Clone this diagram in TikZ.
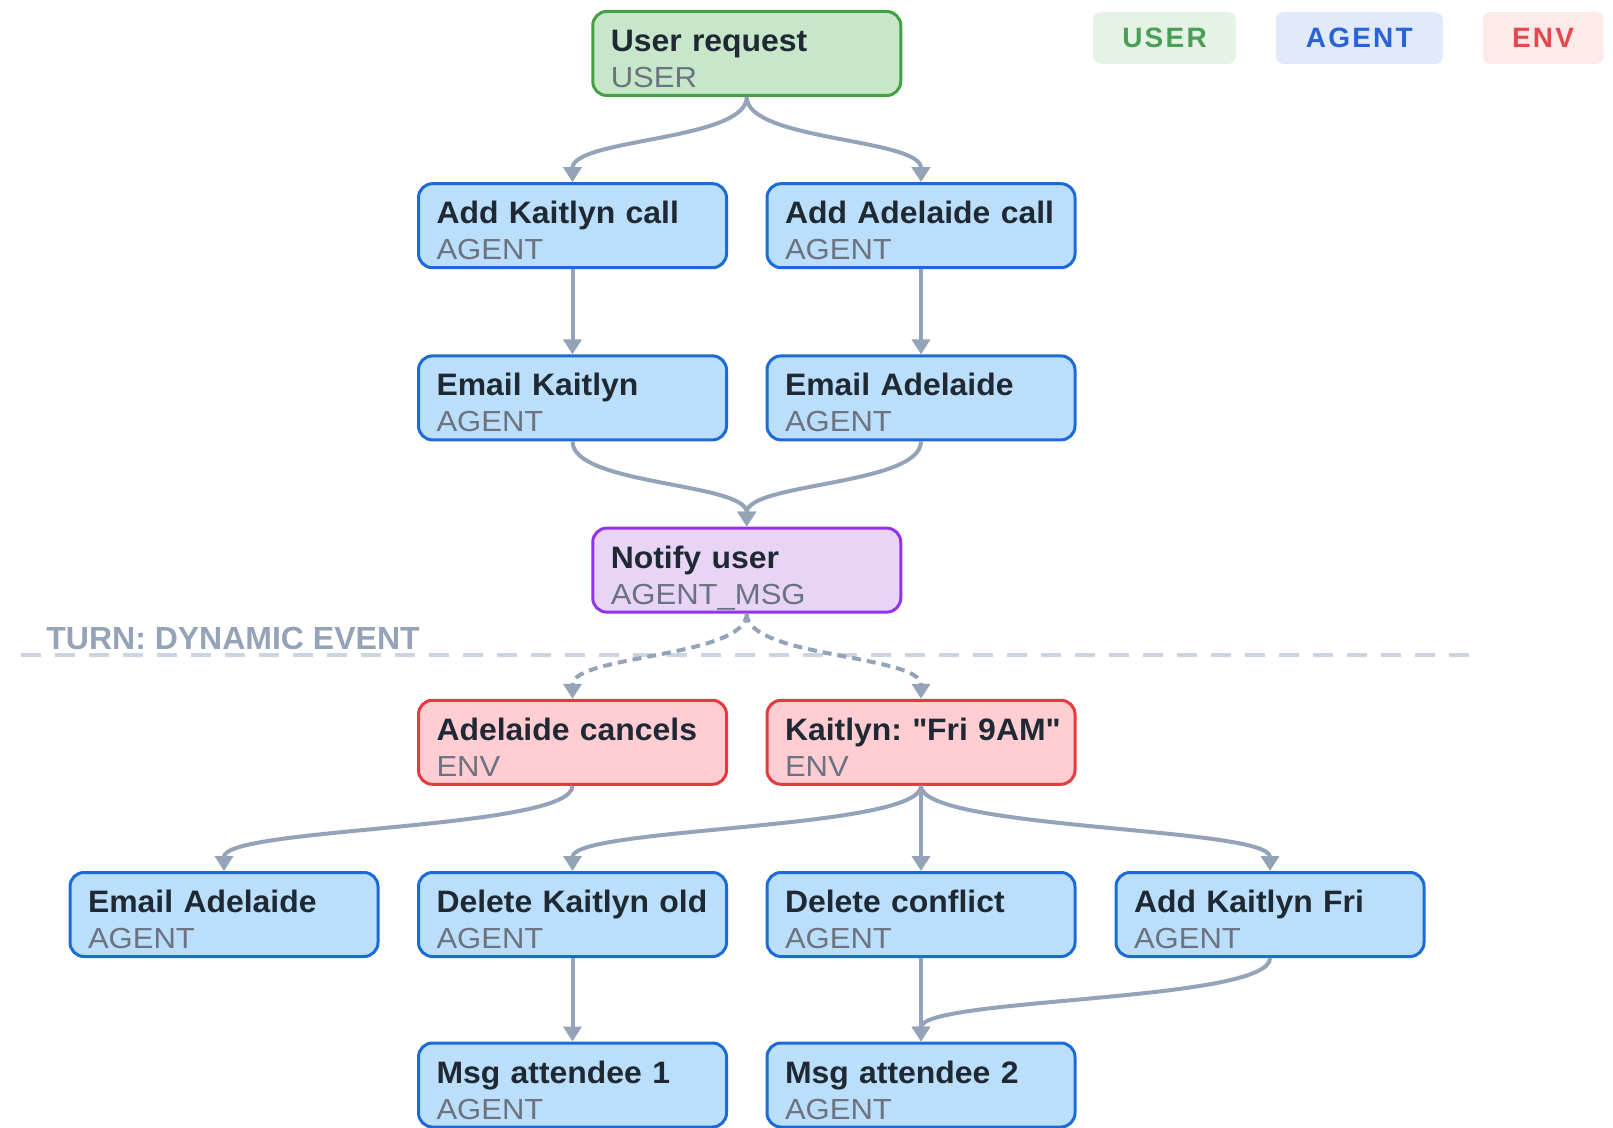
\documentclass[tikz,border=0pt]{standalone}
\usepackage{fontspec}
\setmainfont{Liberation Sans}
\usetikzlibrary{arrows.meta}
\usetikzlibrary{positioning}
\frenchspacing

\definecolor{usrline}{HTML}{43A047}
\definecolor{usrfill}{HTML}{C8E6C9}
\definecolor{agtline}{HTML}{1A6BD8}
\definecolor{agtfill}{HTML}{BBDEFB}
\definecolor{envline}{HTML}{E8393F}
\definecolor{envfill}{HTML}{FFCDD2}
\definecolor{msgline}{HTML}{9333EA}
\definecolor{msgfill}{HTML}{E8D4F6}
\definecolor{titlecol}{HTML}{1F2933}
\definecolor{kindcol}{HTML}{6B7280}
\definecolor{edgecol}{HTML}{94A3B8}
\definecolor{sepcol}{HTML}{CBD5E1}

\newcommand{\steptext}[2]{\rule{0pt}{20pt}{\bfseries\addfontfeature{FakeStretch=1.03}\mbox{#1}}\\{\fontsize{14.5}{18}\selectfont\addfontfeature{FakeStretch=1.07}\color{kindcol}#2}\rule[-4pt]{0pt}{4pt}}

\begin{document}
\begin{tikzpicture}[x=0.5pt, y=-0.5pt,
  task/.style={draw, rounded corners=7pt, line width=1.5pt, text width=136pt, inner xsep=9pt, inner ysep=0pt, align=left, text=titlecol, font=\fontsize{15.5}{18}\selectfont},
  user/.style={task, draw=usrline, fill=usrfill},
  agent/.style={task, draw=agtline, fill=agtfill},
  env/.style={task, draw=envline, fill=envfill},
  msg/.style={task, draw=msgline, fill=msgfill},
  flow/.style={draw=edgecol, line width=2pt, -{Triangle[width=9pt,length=7.5pt]}},
  flowdash/.style={flow, dash pattern=on 4.5pt off 3pt},
  legend/.style={rounded corners=4pt, minimum height=26pt, inner sep=0pt, font=\fontsize{14}{16}\selectfont\bfseries\addfontfeature{LetterSpace=8}}]
\useasboundingbox (0,0) rectangle (1613,1128);
\clip (0,0) rectangle (1613,1128);

% legend
\node[legend, fill={rgb,255:red,229;green,242;blue,230}, text={rgb,255:red,74;green,158;blue,87}, minimum width=71.5pt] (keyuser) at (1164.5,38) {USER};
\node[legend, fill={rgb,255:red,225;green,234;blue,249}, text={rgb,255:red,42;green,98;blue,216}, minimum width=83.5pt, right=19.5pt of keyuser] (keyagent) {AGENT};
\node[legend, fill={rgb,255:red,252;green,233;blue,233}, text={rgb,255:red,229;green,72;blue,77}, minimum width=60.5pt, right=19.5pt of keyagent] (keyenv) {ENV};

% first turn
\node[user] (ureq) at (746.75,53.5) {\steptext{User request}{USER}};
\node[agent] (addK) at (572.5,225.7) {\steptext{Add Kaitlyn call}{AGENT}};
\node[agent] (addA) at (921,225.7) {\steptext{Add Adelaide call}{AGENT}};
\node[agent] (emK) at (572.5,397.9) {\steptext{Email Kaitlyn}{AGENT}};
\node[agent] (emA) at (921,397.9) {\steptext{Email Adelaide}{AGENT}};
\node[msg] (notify) at (746.75,570.1) {\steptext{Notify user}{AGENT\_MSG}};

% turn separator
\draw[sepcol, line width=2.2pt, dash pattern=on 10pt off 7pt] (21,655) -- (1473,655);
\node[anchor=base west, inner sep=0pt, text=edgecol, font=\fontsize{16}{18}\selectfont\bfseries] (turn) at (46,650) {TURN: DYNAMIC EVENT};

% dynamic event
\node[env] (adCancel) at (572.5,742.3) {\steptext{Adelaide cancels}{ENV}};
\node[env] (kaFri) at (921,742.3) {\steptext{Kaitlyn: \textquotedbl Fri 9AM\textquotedbl}{ENV}};
\node[agent] (emA2) at (224,914.5) {\steptext{Email Adelaide}{AGENT}};
\node[agent] (delOld) at (572.5,914.5) {\steptext{Delete Kaitlyn old}{AGENT}};
\node[agent] (delConf) at (921,914.5) {\steptext{Delete conflict}{AGENT}};
\node[agent] (addFri) at (1270,914.5) {\steptext{Add Kaitlyn Fri}{AGENT}};
\node[agent] (msg1) at (572.5,1085) {\steptext{Msg attendee 1}{AGENT}};
\node[agent] (msg2) at (921,1085) {\steptext{Msg attendee 2}{AGENT}};

% connectors
\draw[flow] (ureq.south) .. controls +(0,44) and +(0,-44) .. (addK.north);
\draw[flow] (ureq.south) .. controls +(0,44) and +(0,-44) .. (addA.north);
\draw[flow] (addK) -- (emK);
\draw[flow] (addA) -- (emA);
\draw[flow] (emK.south) .. controls +(0,44) and +(0,-44) .. (notify.north);
\draw[flow] (emA.south) .. controls +(0,44) and +(0,-44) .. (notify.north);
\draw[flowdash] (notify.south) .. controls +(0,44) and +(0,-44) .. (adCancel.north);
\draw[flowdash] (notify.south) .. controls +(0,44) and +(0,-44) .. (kaFri.north);
\draw[flow] (adCancel.south) .. controls +(0,44) and +(0,-44) .. (emA2.north);
\draw[flow] (kaFri.south) .. controls +(0,44) and +(0,-44) .. (delOld.north);
\draw[flow] (kaFri) -- (delConf);
\draw[flow] (kaFri.south) .. controls +(0,44) and +(0,-44) .. (addFri.north);
\draw[flow] (delOld) -- (msg1);
\draw[flow] (delConf) -- (msg2);
\draw[flow] (addFri.south) .. controls +(0,44) and +(0,-44) .. (msg2.north);
\end{tikzpicture}
\end{document}
